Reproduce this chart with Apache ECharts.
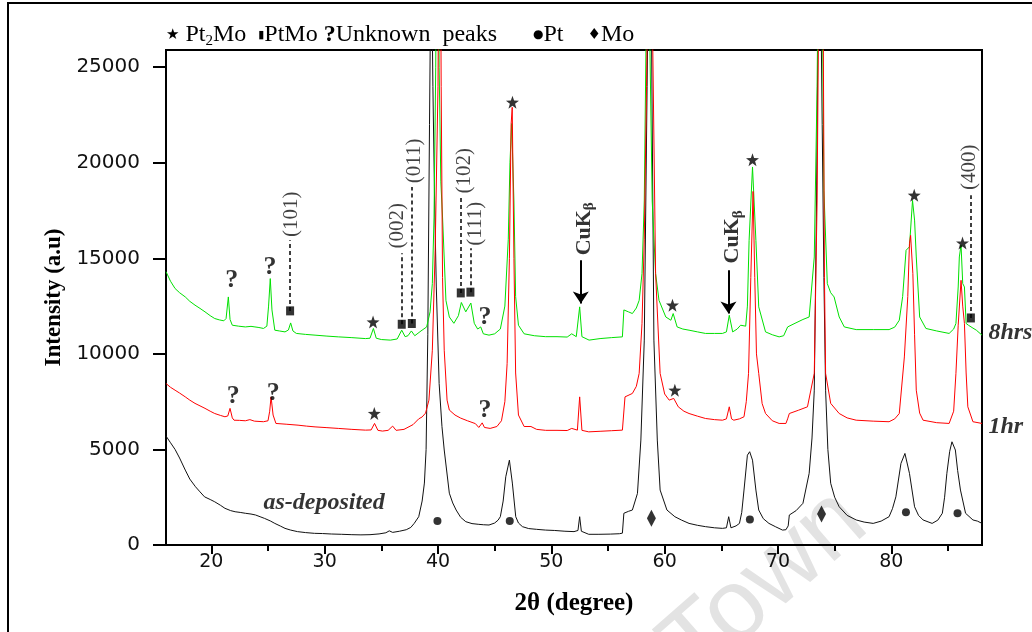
<!DOCTYPE html>
<html>
<head>
<meta charset="utf-8">
<title>XRD patterns of Pt-Mo films</title>
<script src="https://cdn.jsdelivr.net/npm/echarts@6/dist/echarts.min.js"></script>
<style>
  html, body { margin: 0; padding: 0; background: #fff; }
  #chart { width: 1032px; height: 632px; }
</style>
</head>
<body>
<div id="chart"></div>
<script>
// ---- Diffraction patterns: [2theta (deg), intensity (a.u.)] ----
const asDeposited = [
  [16.0,5700],[16.4,5350],[16.8,5000],[17.2,4550],[17.7,3920],[18.1,3450],[18.6,3050],[19.0,2780],
  [19.4,2520],[19.9,2380],[20.3,2260],[20.8,2080],[21.2,1920],[21.7,1800],[22.1,1740],[22.6,1700],
  [23.0,1660],[23.5,1620],[23.9,1570],[24.3,1480],[24.7,1390],[25.2,1260],[25.6,1130],[26.1,990],
  [26.5,870],[27.0,780],[27.6,700],[28.3,650],[29.1,610],[29.8,600],[30.6,575],[31.5,560],
  [32.4,540],[33.2,530],[34.0,540],[34.8,580],[35.4,640],[35.7,740],[36.0,660],[36.6,720],
  [37.2,800],[37.6,920],[37.9,1130],[38.3,1480],[38.6,2300],[38.8,3240],[38.95,5000],[39.1,11000],
  [39.25,22000],[39.4,32000],[39.55,24000],[39.7,18000],[39.85,13500],[40.1,8450],[40.35,6200],[40.55,4970],
  [41.0,2710],[41.3,2200],[41.6,1830],[42.0,1450],[42.45,1220],[43.0,1120],[43.6,1080],[44.0,1060],
  [44.5,1045],[45.0,1150],[45.3,1300],[45.5,1480],[45.75,2300],[45.98,3570],[46.3,4440],[46.56,3240],
  [46.86,1480],[47.1,1150],[47.45,960],[48.0,860],[48.7,820],[49.5,780],[50.3,760],[51.2,720],
  [52.0,700],[52.35,760],[52.5,1480],[52.65,720],[53.3,560],[54.2,560],[55.2,570],[56.0,590],
  [56.27,620],[56.4,1660],[56.8,1760],[57.15,1830],[57.6,2700],[57.9,5490],[58.2,10720],[58.45,24000],
  [58.65,34000],[58.85,26000],[59.05,10720],[59.35,5490],[59.6,2875],[60.2,1830],[60.9,1480],[61.5,1300],
  [62.15,1130],[62.9,1030],[63.6,960],[64.4,900],[65.1,870],[65.45,900],[65.65,1480],[65.85,900],
  [66.3,1000],[66.6,1130],[66.8,1700],[67.0,2875],[67.3,4700],[67.5,4880],[67.75,4440],[68.05,2875],
  [68.3,1830],[68.7,1380],[69.2,1130],[69.8,950],[70.4,780],[70.7,800],[70.9,1000],[71.0,1570],
  [71.6,1800],[72.2,2180],[72.75,3750],[73.0,5600],[73.2,8100],[73.4,18000],[73.65,36000],[73.9,22000],
  [74.05,14000],[74.2,8100],[74.4,5000],[74.65,3230],[75.0,2500],[75.4,2000],[76.1,1550],[76.9,1310],
  [77.6,1200],[78.4,1130],[79.1,1250],[79.8,1480],[80.1,1900],[80.4,2520],[80.85,4270],[81.2,4790],
  [81.6,3750],[82.05,2000],[82.4,1550],[82.8,1310],[83.6,1130],[84.1,1300],[84.5,1660],[84.7,2500],
  [84.9,3750],[85.15,4900],[85.35,5400],[85.65,4970],[85.85,3900],[86.1,2875],[86.55,1660],[87.2,1310],
  [87.6,1250],[88.0,1130]
];

const oneHour = [
  [16.0,8450],[16.4,8250],[16.8,8100],[17.2,7950],[17.7,7750],[18.1,7580],[18.56,7410],[19.0,7280],
  [19.44,7150],[19.9,7000],[20.3,6880],[20.8,6780],[21.2,6710],[21.45,6750],[21.65,7150],[21.85,6650],
  [22.0,6530],[22.5,6520],[23.0,6500],[23.4,6560],[23.8,6480],[24.6,6450],[25.0,6500],[25.15,7000],
  [25.27,7750],[25.45,6800],[25.7,6360],[26.6,6320],[27.65,6270],[28.4,6220],[29.15,6180],[30.2,6140],
  [31.2,6100],[32.4,6050],[33.6,6010],[34.1,6020],[34.4,6360],[34.7,6000],[35.1,5960],[35.6,6000],
  [36.0,6220],[36.3,6000],[37.0,6050],[37.8,6300],[38.3,6600],[38.6,6700],[38.9,6900],[39.2,7580],
  [39.5,10190],[39.75,15420],[40.0,24000],[40.15,40000],[40.28,24000],[40.4,14000],[40.55,10190],[40.8,7580],
  [41.0,7060],[41.5,6800],[42.0,6640],[42.6,6500],[43.3,6350],[43.6,6150],[43.9,6390],[44.1,6150],
  [44.6,6100],[45.2,6200],[45.6,6500],[45.9,7500],[46.1,9500],[46.3,15000],[46.45,22000],[46.55,22900],
  [46.7,15000],[46.85,9000],[47.1,6800],[47.6,6200],[48.2,6200],[48.7,6050],[49.5,6000],[50.5,6000],
  [51.4,5990],[51.8,6100],[52.3,6010],[52.5,7750],[52.7,6000],[53.3,5920],[54.3,5950],[55.3,5980],
  [56.27,6010],[56.5,7750],[57.15,7930],[57.5,8300],[57.75,8980],[58.0,11590],[58.2,16000],[58.4,24000],
  [58.7,40000],[58.95,26000],[59.2,14200],[59.6,8980],[60.0,7900],[60.4,7580],[60.8,7670],[61.2,7230],
  [61.7,7000],[62.15,6880],[62.9,6740],[63.6,6620],[64.4,6560],[65.1,6530],[65.45,6600],[65.7,7230],
  [65.9,6600],[66.1,6530],[66.6,6600],[67.0,6710],[67.2,7500],[67.4,8980],[67.6,14000],[67.8,18500],
  [67.95,14000],[68.1,10000],[68.3,8980],[68.6,7400],[68.9,6880],[69.5,6500],[70.1,6360],[70.7,6360],
  [70.85,6600],[71.0,6880],[71.8,7050],[72.6,7230],[73.2,8980],[73.45,18000],[73.75,40000],[74.0,26000],
  [74.1,14000],[74.2,8980],[74.65,7410],[75.4,6880],[76.1,6650],[76.9,6530],[78.4,6480],[79.8,6450],
  [80.3,6600],[80.7,6880],[81.15,9840],[81.45,13000],[81.6,15770],[81.7,16200],[81.9,14200],[82.05,11000],
  [82.2,8100],[82.5,6900],[82.8,6530],[84.0,6400],[85.1,6360],[85.5,7000],[85.7,8980],[85.9,11500],
  [86.15,13850],[86.3,12500],[86.45,11590],[86.6,9000],[86.75,7230],[87.2,6450],[88.0,6360]
];

const eightHours = [
  [16.0,14300],[16.4,13800],[16.8,13420],[17.2,13200],[17.7,12980],[18.1,12750],[18.56,12550],[19.0,12380],
  [19.44,12200],[19.9,12000],[20.3,11850],[20.7,11780],[21.1,11730],[21.3,11850],[21.5,12980],[21.65,11800],
  [21.85,11500],[22.4,11450],[23.0,11410],[23.5,11440],[23.85,11410],[24.2,11380],[24.6,11330],[24.9,11450],
  [25.05,12500],[25.2,13940],[25.35,12300],[25.6,11240],[26.0,11200],[26.5,11150],[26.8,11250],[27.0,11620],
  [27.2,11200],[27.5,11070],[28.3,11020],[29.15,10980],[30.2,10930],[31.2,10890],[32.4,10850],[33.6,10800],
  [34.0,10820],[34.3,11330],[34.55,10820],[35.0,10750],[35.8,10720],[36.4,10780],[36.8,11240],[37.1,10900],
  [37.35,10950],[37.65,11200],[37.95,10950],[38.5,11200],[39.0,11410],[39.3,12200],[39.5,13680],[39.65,17160],
  [39.8,25000],[39.95,40000],[40.1,25000],[40.25,19000],[40.4,17160],[40.7,12800],[41.0,11930],[41.4,11600],
  [41.8,12000],[42.06,12690],[42.45,12200],[42.9,12660],[43.2,11600],[43.5,11300],[43.77,11410],[44.0,11050],
  [44.5,10980],[45.0,11050],[45.5,11300],[45.9,12500],[46.2,16000],[46.35,20000],[46.5,22050],[46.7,18000],
  [46.85,13000],[47.1,11500],[47.6,11050],[48.5,10950],[49.5,10900],[50.5,10900],[51.4,10880],[51.8,11050],
  [52.2,10900],[52.5,12460],[52.7,10900],[53.33,10720],[54.3,10800],[55.3,10850],[56.27,10890],[56.4,12300],
  [56.8,12200],[57.15,12110],[57.5,12400],[57.75,12800],[58.0,14200],[58.2,18000],[58.35,26000],[58.5,40000],
  [58.7,26000],[58.9,18000],[59.2,14200],[59.5,12800],[60.1,11930],[60.55,11760],[60.75,12110],[61.1,11410],
  [61.6,11300],[62.15,11240],[62.9,11150],[63.6,11070],[64.4,11070],[65.1,11070],[65.45,11150],[65.7,12020],
  [66.0,11150],[66.4,11300],[66.7,11500],[67.15,11450],[67.3,12500],[67.45,15940],[67.75,19780],[68.05,15940],
  [68.3,12460],[68.9,11150],[69.5,11000],[70.1,10890],[70.5,10950],[70.85,11410],[71.5,11600],[72.2,11800],
  [72.75,11930],[73.2,15070],[73.45,24000],[73.7,40000],[73.95,26000],[74.05,18560],[74.35,13680],[74.65,13200],
  [74.95,12980],[75.4,11930],[75.85,11410],[76.9,11270],[78.4,11270],[79.8,11270],[80.3,11400],[80.7,11760],
  [81.0,13000],[81.3,15420],[81.6,15600],[81.87,18030],[82.05,17000],[82.2,15070],[82.5,11930],[83.05,11330],
  [84.0,11200],[85.1,11070],[85.5,11300],[85.7,11590],[85.9,13500],[86.0,15070],[86.15,15700],[86.3,13680],
  [86.45,13500],[86.6,11590],[86.8,11500],[86.9,11410],[87.2,11350],[87.5,11240],[88.0,10980]
];

// ---- Axis ticks ----
const xTicks = [20, 30, 40, 50, 60, 70, 80];
const xMinorTicks = [25, 35, 45, 55, 65, 75, 85];
const yTicks = [0, 5000, 10000, 15000, 20000, 25000];

// ---- Phase markers, [2theta, intensity] ----
const pt2MoPeaks = [[34.27,11670],[46.57,23170],[60.69,12550],[67.75,20160],[82.02,18300],[86.28,15800],[34.38,6880],[60.9,8100]];
const ptMoPeaks  = [[26.95,12250],[36.8,11550],[37.69,11590],[42.01,13190],[42.86,13230],[87.02,11880]];
const ptPeaks    = [[39.95,1250],[46.33,1250],[67.52,1340],[81.29,1710],[85.84,1660]];
const moPeaks    = [[58.83,1400],[73.84,1620]];
const unknownPeaks = [[21.8,13850],[25.18,14520],[44.15,11920],[21.94,7800],[25.47,7930],[44.15,7060]];

// ---- PtMo reflections (hkl) ----
const hklNames = ['(101)', '(002)', '(011)', '(102)', '(111)', '(400)'];
const hklX = [26.95, 36.8, 37.69, 42.01, 42.86, 87.02];
const hklFrom = [12250, 11550, 11590, 13190, 13230, 11880];
const hklTo = [15940, 15260, 18730, 18300, 15530, 18300];
const hklLabelAt = [[27.1,17300],[36.4,16700],[37.9,20100],[42.3,19580],[43.33,16810],[86.87,19760]];

// ---- Cu K-beta lines ----
const cuKbX = [52.6, 65.63];
const cuKbFrom = [14900, 14380];
const cuKbTo = [12630, 12110];
const cuKbLabelAt = [[52.89,16545],[65.98,16120]];

// ---- Pattern names ----
const patternNames = ['8hrs', '1hr', 'as-deposited'];
const patternNameAt = [[87.99,11080],[87.99,6170],[29.95,2195]];

const SERIF = '"Liberation Serif", "Times New Roman", serif';
const SANS = '"DejaVu Sans", sans-serif';
const STAR = 'path://M50 0 L61.76 33.82 L97.55 34.55 L69.02 56.18 L79.39 90.45 L50 70 L20.61 90.45 L30.98 56.18 L2.45 34.55 L38.24 33.82 Z';
const INVISIBLE = { color: 'rgba(0,0,0,0)' };

const chart = echarts.init(document.getElementById('chart'), null, { renderer: 'canvas' });

function markerSeries(name, data, symbol, size) {
  return {
    name, type: 'scatter', data, symbol, symbolSize: size, z: 5, silent: true,
    itemStyle: { color: '#000' }
  };
}

const option = {
  animation: false,
  backgroundColor: '#fff',
  title: {
    left: 161, top: 16,
    text: '{s|★} Pt{sub|2}Mo  {sq|▮}PtMo {q|?}Unknown  peaks      {d|●}Pt    {m|♦}Mo',
    textStyle: {
      fontFamily: SERIF, fontSize: 24, fontWeight: 'normal', color: '#000', lineHeight: 28,
      rich: {
        s: { fontFamily: SANS, fontSize: 15, color: '#000', lineHeight: 28 },
        sub: { fontFamily: SERIF, fontSize: 15, color: '#000', lineHeight: 15, verticalAlign: 'bottom' },
        sq: { fontFamily: SANS, fontSize: 11, color: '#000', lineHeight: 28 },
        q: { fontFamily: SERIF, fontSize: 24, fontWeight: 'bold', color: '#000', lineHeight: 28 },
        d: { fontFamily: SANS, fontSize: 12, color: '#000', lineHeight: 28 },
        m: { fontFamily: SANS, fontSize: 15, color: '#000', lineHeight: 28 }
      }
    }
  },
  graphic: [
    {
      type: 'rect', silent: true, z: -10,
      shape: { x: 8, y: 3, width: 1100, height: 700 },
      style: { fill: 'none', stroke: '#000', lineWidth: 2 }
    },
    {
      type: 'text', silent: true, z: -10,
      x: 765, y: 585, rotation: 0.72,
      style: {
        text: 'Town', font: 'normal 100px "Liberation Sans", sans-serif',
        fill: '#e3e3e3', align: 'center', verticalAlign: 'middle'
      }
    }
  ],
  grid: {
    left: 166, right: 50, top: 50, bottom: 87,
    show: true, borderColor: '#000', borderWidth: 2, backgroundColor: 'transparent',
    outerBoundsMode: 'none'
  },
  xAxis: [
    {
      type: 'value', min: 16, max: 88, position: 'bottom',
      axisLine: { show: true, onZero: false, lineStyle: { color: '#000', width: 2 } },
      axisTick: { show: true, customValues: xTicks, length: 9, lineStyle: { color: '#000', width: 2 } },
      axisLabel: { customValues: xTicks, margin: 8, fontFamily: SANS, fontSize: 19, color: '#111',
        formatter: v => String(v) },
      splitLine: { show: false },
      name: '2θ (degree)', nameLocation: 'middle', nameGap: 46,
      nameTextStyle: { fontFamily: SERIF, fontWeight: 'bold', fontSize: 25, color: '#000' }
    },
    {
      type: 'value', min: 16, max: 88, position: 'bottom',
      axisLine: { show: false, onZero: false },
      axisTick: { show: true, customValues: xMinorTicks, length: 6, lineStyle: { color: '#000', width: 2 } },
      axisLabel: { show: false },
      splitLine: { show: false }
    }
  ],
  yAxis: {
    type: 'value', min: 0, max: 25900,
    axisLine: { show: true, lineStyle: { color: '#000', width: 2 } },
    axisTick: { show: true, customValues: yTicks, length: 13, lineStyle: { color: '#000', width: 2 } },
    axisLabel: { customValues: yTicks, margin: 26, fontFamily: SANS, fontSize: 20, color: '#111',
      formatter: v => String(v) },
    splitLine: { show: false },
    name: 'Intensity (a.u)', nameLocation: 'middle', nameGap: 92, nameRotate: 90,
    nameTextStyle: { fontFamily: SERIF, fontWeight: 'bold', fontSize: 23, color: '#000' }
  },
  series: [
    {
      name: 'as-deposited', type: 'line', data: asDeposited, showSymbol: false, clip: true, silent: true,
      lineStyle: { color: '#111', width: 1 }, z: 2
    },
    {
      name: '8hrs', type: 'line', data: eightHours, showSymbol: false, clip: true, silent: true,
      lineStyle: { color: '#00e000', width: 1 }, z: 2
    },
    {
      name: '1hr', type: 'line', data: oneHour, showSymbol: false, clip: true, silent: true,
      lineStyle: { color: '#ff0000', width: 1 }, z: 2
    },
    markerSeries('Pt2Mo', pt2MoPeaks, STAR, 13),
    Object.assign(markerSeries('PtMo', ptMoPeaks, 'rect', [8, 9]), {
      markLine: {
        silent: true, symbol: ['none', 'none'], animation: false,
        label: { show: false },
        lineStyle: { color: '#000', width: 1.5, type: [4, 3] },
        emphasis: { disabled: true },
        data: hklX.map((x, i) => [{ coord: [x, hklFrom[i]] }, { coord: [x, hklTo[i]] }])
      }
    }),
    markerSeries('Pt', ptPeaks, 'circle', 8),
    markerSeries('Mo', moPeaks, 'diamond', [9, 17]),
    {
      name: 'Unknown', type: 'scatter', data: unknownPeaks, symbolSize: 1, silent: true, z: 5,
      itemStyle: INVISIBLE,
      label: {
        show: true, position: 'inside', formatter: '?',
        fontFamily: SERIF, fontWeight: 'bold', fontSize: 26, color: '#000'
      }
    },
    {
      name: 'hkl', type: 'scatter', symbolSize: 1, silent: true, z: 5, itemStyle: INVISIBLE,
      data: hklLabelAt.map((p, i) => ({ value: p, name: hklNames[i] })),
      label: {
        show: true, position: 'inside', rotate: 90, formatter: '{b}',
        fontFamily: SERIF, fontSize: 21, color: '#111'
      }
    },
    {
      name: 'CuKbeta', type: 'scatter', symbolSize: 1, silent: true, z: 5, itemStyle: INVISIBLE,
      data: cuKbLabelAt,
      label: {
        show: true, position: 'inside', rotate: 90, formatter: 'CuK{b|β}',
        fontFamily: SERIF, fontWeight: 'bold', fontSize: 22, lineHeight: 26, color: '#000',
        rich: { b: { fontFamily: SERIF, fontWeight: 'bold', fontSize: 15, lineHeight: 14, verticalAlign: 'bottom', color: '#000' } }
      },
      markLine: {
        silent: true, symbol: ['none', 'arrow'], symbolSize: 12, animation: false,
        label: { show: false },
        lineStyle: { color: '#000', width: 2, type: 'solid' },
        itemStyle: { color: '#000' },
        emphasis: { disabled: true },
        data: cuKbX.map((x, i) => [{ coord: [x, cuKbFrom[i]] }, { coord: [x, cuKbTo[i]] }])
      }
    },
    {
      name: 'pattern names', type: 'scatter', symbolSize: 1, silent: true, z: 5, itemStyle: INVISIBLE,
      data: patternNameAt.map((p, i) => ({
        value: p, name: patternNames[i],
        label: i < 2 ? { position: 'right', distance: 6 } : { position: 'inside' }
      })),
      label: {
        show: true, formatter: '{b}',
        fontFamily: SERIF, fontWeight: 'bold', fontStyle: 'italic', fontSize: 24, color: '#000'
      }
    }
  ]
};

chart.setOption(option);
</script>
</body>
</html>
